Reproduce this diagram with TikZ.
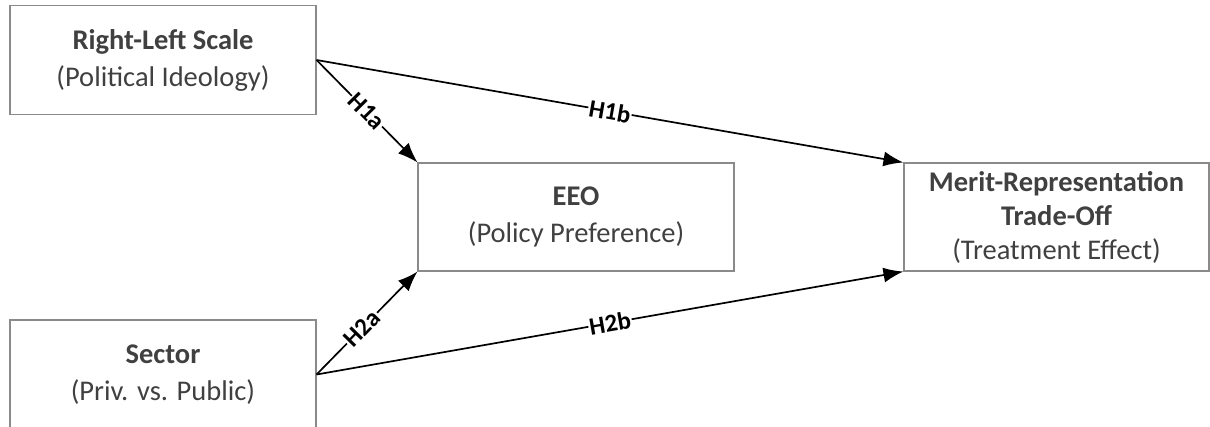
\documentclass[tikz,border=0pt]{standalone}
\usepackage{fontspec}
\setmainfont{Carlito}
\usetikzlibrary{arrows.meta}
\definecolor{boxline}{HTML}{8A8A8A}
\definecolor{txt}{HTML}{404040}
\begin{document}
\begin{tikzpicture}[x=1pt,y=-1pt,
  box/.style={draw=boxline, line width=1.1pt, rectangle, align=center,
    text=txt, font=\fontsize{28.5}{37}\selectfont, inner sep=0pt},
  conn/.style={line width=1.7pt, -{Latex[length=20pt,width=15pt]}},
  hlab/.style={sloped, fill=white, inner sep=1pt, font=\fontsize{25}{28}\selectfont\bfseries, text=black}]
\clip (0,0) rectangle (1210,426);
\useasboundingbox (0,0) rectangle (1210,426);
\node[box, minimum width=306pt, minimum height=109pt] (rl) at (163,60)
  {\textbf{Right-Left Scale}\\(Political Ideology)};
\node[box, minimum width=306pt, minimum height=109pt] (sec) at (163,374.5)
  {\textbf{Sector}\\(Priv. vs. Public)};
\node[box, minimum width=316pt, minimum height=108pt] (eeo) at (576,217)
  {\textbf{EEO}\\(Policy Preference)};
\node[box, minimum width=305pt, minimum height=108pt, font=\fontsize{28.5}{34}\selectfont] (mr) at (1056.5,217)
  {\textbf{Merit-Representation}\\\textbf{Trade-Off}\\(Treatment Effect)};
\draw[conn] (rl.east) -- node[hlab] {H1a} (eeo.north west);
\draw[conn] (rl.east) -- node[hlab] {H1b} (mr.north west);
\draw[conn] (sec.east) -- node[hlab, pos=0.45] {H2a} (eeo.south west);
\draw[conn] (sec.east) -- node[hlab] {H2b} (mr.south west);
\end{tikzpicture}
\end{document}
